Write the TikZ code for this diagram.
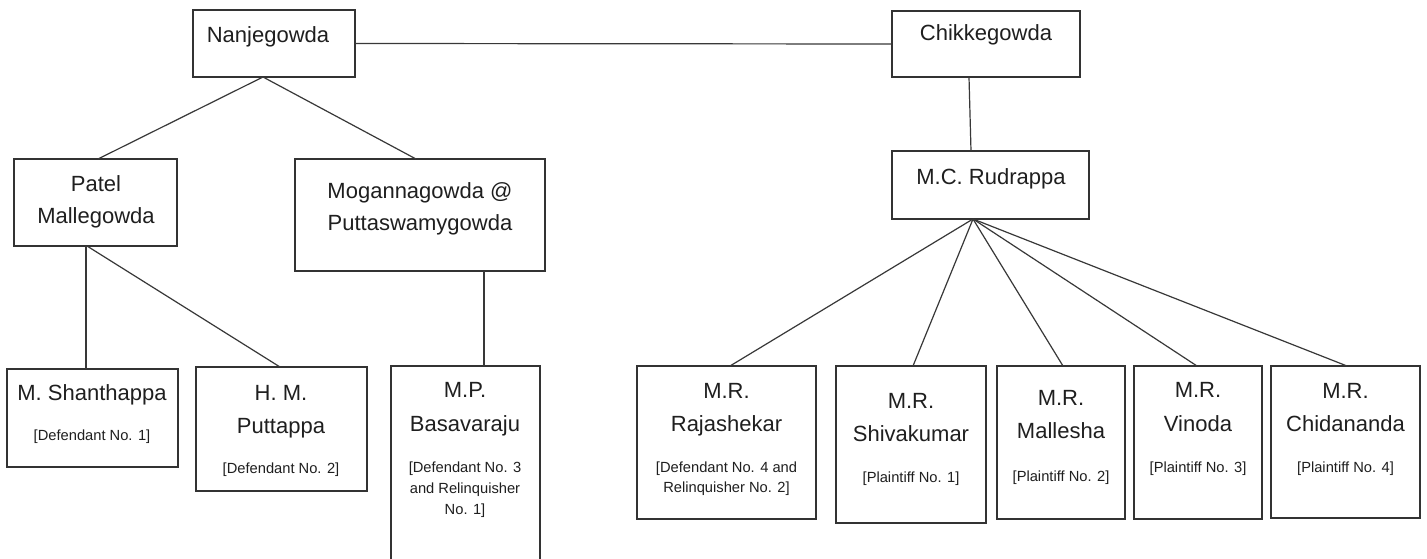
\documentclass[tikz,border=0pt]{standalone}
\usepackage{fontspec}
\setmainfont{Liberation Sans}
\begin{document}
\begin{tikzpicture}[x=1pt,y=-1pt,
  box/.style={draw=black!80,line width=1.3pt,inner sep=0pt,outer sep=0pt,anchor=north west,fill=white},
  nm/.style={font=\fontsize{22}{26}\selectfont,anchor=base,inner sep=0pt,text=black!88},
  tag/.style={font=\fontsize{14.7}{17}\selectfont,anchor=base,inner sep=0pt,text=black!88},
  link/.style={draw=black!78,line width=1.2pt}]
\clip (0,0) rectangle (1427,559);
\fill[white] (0,0) rectangle (1427,559);

% boxes
\node[box,minimum width=162pt,minimum height=67pt] (nan) at (193,10) {};
\node[box,minimum width=188pt,minimum height=66pt] (chk) at (892,11) {};
\node[box,minimum width=163pt,minimum height=87pt] (pat) at (14,159) {};
\node[box,minimum width=250pt,minimum height=112pt] (mog) at (295,159) {};
\node[box,minimum width=197pt,minimum height=68pt] (rud) at (892,151) {};
\node[box,minimum width=171pt,minimum height=98pt] (sha) at (7,369) {};
\node[box,minimum width=171pt,minimum height=124pt] (put) at (196,367) {};
\node[box,minimum width=149pt,minimum height=210pt] (bas) at (391,366) {};
\node[box,minimum width=179pt,minimum height=153pt] (raj) at (637,366) {};
\node[box,minimum width=150pt,minimum height=157pt] (shi) at (836,366) {};
\node[box,minimum width=128pt,minimum height=153pt] (mal) at (997,366) {};
\node[box,minimum width=128pt,minimum height=153pt] (vin) at (1134,366) {};
\node[box,minimum width=149pt,minimum height=152pt] (chi) at (1271,366) {};

% connectors
\draw[link] (nan.east) -- (chk.west);
\draw[link] ([xshift=70pt]nan.south west) -- ([xshift=84pt]pat.north west);
\draw[link] ([xshift=70pt]nan.south west) -- ([xshift=121pt]mog.north west);
\draw[link] ([xshift=72pt]pat.south west) -- ([xshift=79pt]sha.north west);
\draw[link] ([xshift=73pt]pat.south west) -- ([xshift=84pt]put.north west);
\draw[link] ([xshift=189pt]mog.south west) -- ([xshift=93pt]bas.north west);
\draw[link] ([xshift=77pt]chk.south west) -- ([xshift=79pt]rud.north west);
\draw[link] ([xshift=81pt]rud.south west) -- ([xshift=93pt]raj.north west);
\draw[link] ([xshift=81pt]rud.south west) -- ([xshift=77pt]shi.north west);
\draw[link] ([xshift=81pt]rud.south west) -- ([xshift=66pt]mal.north west);
\draw[link] ([xshift=81pt]rud.south west) -- ([xshift=63pt]vin.north west);
\draw[link] ([xshift=81pt]rud.south west) -- ([xshift=76pt]chi.north west);

% texts
\node[nm] (nan-t) at (268,43) {Nanjegowda};
\node[nm] (chk-t) at (986,41) {Chikkegowda};
\node[nm] (pat-t1) at (96,191) {Patel};
\node[nm] (pat-t2) at (96,223) {Mallegowda};
\node[nm] (mog-t1) at (420,198) {Mogannagowda @};
\node[nm] (mog-t2) at (420,230) {Puttaswamygowda};
\node[nm] (rud-t) at (991,185) {M.C. Rudrappa};

\node[nm] (sha-t1) at (92,400) {M. Shanthappa};
\node[tag] (sha-t2) at (92,440) {[Defendant No. 1]};

\node[nm] (put-t1) at (281,400) {H. M.};
\node[nm] (put-t2) at (281,433) {Puttappa};
\node[tag] (put-t3) at (281,473) {[Defendant No. 2]};

\node[nm] (bas-t1) at (465,397) {M.P.};
\node[nm] (bas-t2) at (465,431) {Basavaraju};
\node[tag] (bas-t3) at (465,472) {[Defendant No. 3};
\node[tag] (bas-t4) at (465,493) {and Relinquisher};
\node[tag] (bas-t5) at (465,514) {No. 1]};

\node[nm] (raj-t1) at (726.5,398) {M.R.};
\node[nm] (raj-t2) at (726.5,431) {Rajashekar};
\node[tag] (raj-t3) at (726.5,472) {[Defendant No. 4 and};
\node[tag] (raj-t4) at (726.5,492) {Relinquisher No. 2]};

\node[nm] (shi-t1) at (911,408) {M.R.};
\node[nm] (shi-t2) at (911,441) {Shivakumar};
\node[tag] (shi-t3) at (911,482) {[Plaintiff No. 1]};

\node[nm] (mal-t1) at (1061,405) {M.R.};
\node[nm] (mal-t2) at (1061,438) {Mallesha};
\node[tag] (mal-t3) at (1061,481) {[Plaintiff No. 2]};

\node[nm] (vin-t1) at (1198,397) {M.R.};
\node[nm] (vin-t2) at (1198,431) {Vinoda};
\node[tag] (vin-t3) at (1198,472) {[Plaintiff No. 3]};

\node[nm] (chi-t1) at (1345.5,398) {M.R.};
\node[nm] (chi-t2) at (1345.5,431) {Chidananda};
\node[tag] (chi-t3) at (1345.5,472) {[Plaintiff No. 4]};
\end{tikzpicture}
\end{document}
